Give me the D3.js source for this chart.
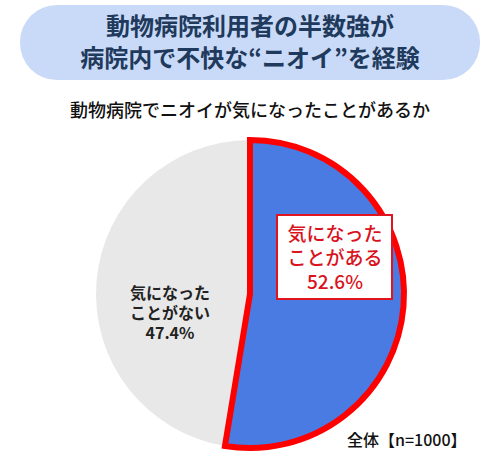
<!DOCTYPE html>
<html>
<head>
<meta charset="utf-8">
<script src="https://cdn.jsdelivr.net/npm/d3@7"></script>
<style>
  body { margin: 0; background: #fff; }
  svg { display: block; font-family: "Noto Sans CJK JP", "Noto Sans", sans-serif; }
</style>
</head>
<body>
<svg id="chart" width="500" height="468"></svg>
<script>
// data
const titleLines = ['動物病院利用者の半数強が', '病院内で不快な“ニオイ”を経験']
const question = '動物病院でニオイが気になったことがあるか'
const categories = ['気になったことがある', '気になったことがない']
const labelLines = [['気になった', 'ことがある'], ['気になった', 'ことがない']]
const values = [52.6, 47.4]
const sampleNote = '全体【n=1000】'

const svg = d3.select('#chart')

// title pill
svg.append('rect')
    .attr('x', 20).attr('y', 5)
    .attr('width', 460).attr('height', 75)
    .attr('rx', 37).attr('fill', '#c9daf8')

svg.append('g').selectAll('text')
    .data(titleLines)
    .join('text')
    .attr('x', 250)
    .attr('y', (d, i) => 35 + i * 32)
    .attr('text-anchor', 'middle')
    .attr('font-size', 24)
    .attr('font-weight', 'bold')
    .attr('fill', '#1f3a5c')
    .text(d => d)

svg.append('text')
    .attr('x', 250).attr('y', 117)
    .attr('text-anchor', 'middle')
    .attr('font-size', 18)
    .attr('font-weight', 500)
    .attr('fill', '#111')
    .text(question)

// pie
const cx = 250, cy = 294, r = 154
const pie = d3.pie().sort(null).value(d => d)
const arcs = pie(values)
const colors = ['#4a7be3', '#e8e8e8']

const g = svg.append('g').attr('transform', `translate(${cx},${cy})`)

g.selectAll('path.slice')
    .data(arcs)
    .join('path')
    .attr('class', 'slice')
    .attr('d', d3.arc().innerRadius(0).outerRadius(r))
    .attr('fill', (d, i) => colors[i])

// red outline on the "yes" slice
g.append('path')
    .attr('d', d3.arc().innerRadius(0).outerRadius(r)(arcs[0]))
    .attr('fill', 'none')
    .attr('stroke', '#ff0000')
    .attr('stroke-width', 6)
    .attr('stroke-linejoin', 'miter')

// yes label box
svg.append('rect')
    .attr('x', 277).attr('y', 215)
    .attr('width', 115).attr('height', 84)
    .attr('fill', '#fff')
    .attr('stroke', '#e0141e')
    .attr('stroke-width', 2)

const yesLines = labelLines[0].concat([values[0].toFixed(1) + '%'])
svg.append('g').selectAll('text')
    .data(yesLines)
    .join('text')
    .attr('x', 335)
    .attr('y', (d, i) => 241 + i * 24)
    .attr('text-anchor', 'middle')
    .attr('font-size', 19)
    .attr('font-weight', 500)
    .attr('fill', '#d9121c')
    .text(d => d)

const noLines = labelLines[1].concat([values[1].toFixed(1) + '%'])
svg.append('g').selectAll('text')
    .data(noLines)
    .join('text')
    .attr('x', 170)
    .attr('y', (d, i) => 299 + i * 20)
    .attr('text-anchor', 'middle')
    .attr('font-size', 16)
    .attr('font-weight', 'bold')
    .attr('fill', '#222')
    .text(d => d)

svg.append('text')
    .attr('x', 347).attr('y', 446)
    .attr('font-size', 16)
    .attr('font-weight', 500)
    .attr('fill', '#111')
    .text(sampleNote)
</script>
</body>
</html>
